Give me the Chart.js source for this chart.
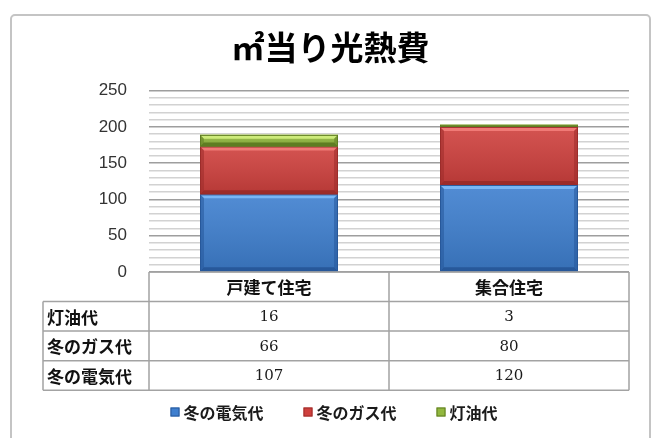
<!DOCTYPE html>
<html>
<head>
<meta charset="utf-8">
<script src="https://cdn.jsdelivr.net/npm/chart.js@4/dist/chart.umd.min.js"></script>
<style>
html,body{margin:0;padding:0;background:#fff;}
#wrap{position:relative;width:654px;height:438px;}
</style>
</head>
<body>
<div id="wrap"><canvas id="c" width="654" height="438"></canvas></div>
<script>
const titleText = '㎡当り光熱費';
const categories = ['戸建て住宅', '集合住宅'];
const seriesNames = ['冬の電気代', '冬のガス代', '灯油代'];
const electricity = [107, 120];
const gas = [66, 80];
const kerosene = [16, 3];
const yMin = 0, yMax = 250, yMajorStep = 50, yMinorStep = 10;

const palette = [
  {base:'#3e7fcf', light:'#79b6f6', dark:'#27589a'},
  {base:'#cf403d', light:'#f07a76', dark:'#9c2c2a'},
  {base:'#92b83e', light:'#cdeb7a', dark:'#5f7d22'}
];

const seriesValues = [electricity, gas, kerosene];

const titleShiftPlugin = {
  id:'titleShift',
  afterLayout(chart){
    const t = chart.titleBlock;
    if (t) {
      const frameCenter = 330.5;
      const cur = (t.left + t.right) / 2;
      t.left += frameCenter - cur;
      t.right += frameCenter - cur;
    }
  }
};

const bevelPlugin = {
  id:'bevel',
  afterDatasetsDraw(chart){
    const ctx = chart.ctx;
    chart.data.datasets.forEach((ds, di) => {
      const meta = chart.getDatasetMeta(di);
      const col = palette[di];
      meta.data.forEach(el => {
        const p = el.getProps(['x','y','base','width'], true);
        const l = p.x - p.width/2, r = p.x + p.width/2;
        const t = Math.min(p.y, p.base), b = Math.max(p.y, p.base);
        const h = b - t;
        if (h <= 0) return;
        const bv = Math.min(4, h/3);
        ctx.save();
        const g = ctx.createLinearGradient(0, t, 0, b);
        g.addColorStop(0, 'rgba(255,255,255,0.10)');
        g.addColorStop(1, 'rgba(0,0,0,0.12)');
        ctx.fillStyle = g;
        ctx.fillRect(l, t, r-l, h);
        ctx.fillStyle = col.light;
        ctx.beginPath();
        ctx.moveTo(l, t); ctx.lineTo(r, t); ctx.lineTo(r-bv, t+bv); ctx.lineTo(l+bv, t+bv); ctx.closePath(); ctx.fill();
        ctx.fillStyle = col.dark;
        ctx.beginPath();
        ctx.moveTo(l, b); ctx.lineTo(r, b); ctx.lineTo(r-bv, b-bv); ctx.lineTo(l+bv, b-bv); ctx.closePath(); ctx.fill();
        ctx.globalAlpha = 0.55;
        ctx.beginPath();
        ctx.moveTo(l, t); ctx.lineTo(l+bv, t+bv); ctx.lineTo(l+bv, b-bv); ctx.lineTo(l, b); ctx.closePath(); ctx.fill();
        ctx.beginPath();
        ctx.moveTo(r, t); ctx.lineTo(r-bv, t+bv); ctx.lineTo(r-bv, b-bv); ctx.lineTo(r, b); ctx.closePath(); ctx.fill();
        ctx.globalAlpha = 1;
        ctx.strokeStyle = col.dark;
        ctx.lineWidth = 1;
        ctx.strokeRect(l+0.5, t+0.5, r-l-1, h-1);
        ctx.restore();
      });
    });
  }
};

const framePlugin = {
  id:'frame',
  beforeDraw(chart){
    const ctx = chart.ctx;
    ctx.save();
    ctx.fillStyle = '#fff';
    ctx.fillRect(0,0,chart.width,chart.height);
    ctx.strokeStyle = '#c4c4c4';
    ctx.lineWidth = 2;
    ctx.beginPath();
    if (ctx.roundRect) ctx.roundRect(11, 15, 639, 440, 4); else ctx.rect(11,15,639,440);
    ctx.stroke();
    ctx.restore();
  }
};

const tablePlugin = {
  id:'dataTable',
  afterDraw(chart){
    const ctx = chart.ctx;
    const xs = chart.scales.x;
    const area = chart.chartArea;
    const left = area.left, right = area.right;
    const centers = categories.map((_, i) => xs.getPixelForValue(i));
    const dividers = [];
    for (let i = 0; i < centers.length - 1; i++) dividers.push((centers[i] + centers[i+1]) / 2);
    const top = area.bottom;
    const headerH = 29.5, rowH = 29.6;
    const labelLeft = 43;
    const rows = seriesNames.map((n, i) => ({name:n, vals:seriesValues[i]})).reverse();
    const tableBottom = top + headerH + rows.length * rowH;
    ctx.save();
    ctx.strokeStyle = '#a3a3a3';
    ctx.lineWidth = 1.5;
    ctx.beginPath();
    ctx.moveTo(left, top); ctx.lineTo(right, top);
    ctx.moveTo(left, top); ctx.lineTo(left, tableBottom);
    ctx.moveTo(right, top); ctx.lineTo(right, tableBottom);
    dividers.forEach(d => { ctx.moveTo(d, top); ctx.lineTo(d, tableBottom); });
    for (let r = 0; r <= rows.length; r++) {
      const y = top + headerH + r * rowH;
      ctx.moveTo(labelLeft, y); ctx.lineTo(right, y);
    }
    ctx.moveTo(labelLeft, top + headerH); ctx.lineTo(labelLeft, tableBottom);
    ctx.stroke();
    ctx.textBaseline = 'middle';
    rows.forEach((row, r) => {
      const yc = top + headerH + r * rowH + rowH / 2 + 1;
      ctx.fillStyle = '#111';
      ctx.font = 'bold 17px "Noto Sans CJK JP"';
      ctx.textAlign = 'left';
      ctx.fillText(row.name, labelLeft + 4, yc);
      ctx.font = '15px "DejaVu Serif"';
      ctx.fillStyle = '#1a1a1a';
      ctx.textAlign = 'center';
      row.vals.forEach((v, i) => ctx.fillText(String(v), centers[i], yc));
    });
    const ly = 412;
    ctx.font = 'bold 16px "Noto Sans CJK JP"';
    const box = 9, gapText = 4, gapItem = 40;
    const widths = seriesNames.map(n => box + gapText + ctx.measureText(n).width);
    const total = widths.reduce((a, b) => a + b, 0) + gapItem * (widths.length - 1);
    let x = 334 - total / 2;
    ctx.textAlign = 'left';
    seriesNames.forEach((n, i) => {
      const col = palette[i];
      ctx.fillStyle = col.base;
      ctx.fillRect(x, ly - box/2, box, box);
      ctx.strokeStyle = col.dark;
      ctx.lineWidth = 1;
      ctx.strokeRect(x + 0.5, ly - box/2 + 0.5, box - 1, box - 1);
      ctx.fillStyle = '#1a1a1a';
      ctx.fillText(n, x + box + gapText, ly + 1);
      x += widths[i] + gapItem;
    });
    ctx.restore();
  }
};

new Chart(document.getElementById('c'), {
  type:'bar',
  data:{
    labels:categories,
    datasets:[
      {label:seriesNames[0], data:electricity, backgroundColor:palette[0].base},
      {label:seriesNames[1], data:gas, backgroundColor:palette[1].base},
      {label:seriesNames[2], data:kerosene, backgroundColor:palette[2].base}
    ]
  },
  options:{
    responsive:false,
    animation:false,
    layout:{padding:{left:10, right:25, top:0, bottom:46}},
    datasets:{bar:{categoryPercentage:1, barPercentage:0.575, borderWidth:0}},
    plugins:{
      legend:{display:false},
      tooltip:{enabled:false},
      title:{
        display:true, text:titleText, color:'#000',
        font:{family:'"Noto Sans CJK JP"', size:33, weight:'bold', lineHeight:1.2},
        padding:{top:28, bottom:23}
      }
    },
    scales:{
      x:{
        stacked:true,
        grid:{display:false, drawTicks:false},
        border:{display:false},
        ticks:{color:'#111', padding:5, font:{family:'"Noto Sans CJK JP"', size:17, weight:'bold'}},
        afterFit(s){ s.height = 120; }
      },
      y:{
        stacked:true,
        min:yMin, max:yMax,
        border:{display:false},
        grid:{
          drawTicks:false,
          color:(c) => (c.tick && c.tick.value % yMajorStep === 0) ? '#9e9e9e' : '#d2d2d2',
          lineWidth:1.6
        },
        ticks:{
          stepSize:yMinorStep, autoSkip:false, padding:22, color:'#333',
          font:{family:'"Liberation Sans"', size:17},
          callback:(v) => (v % yMajorStep === 0) ? String(v) : ''
        },
        afterFit(s){ s.width = 139; }
      }
    }
  },
  plugins:[framePlugin, titleShiftPlugin, bevelPlugin, tablePlugin]
});
</script>
</body>
</html>
